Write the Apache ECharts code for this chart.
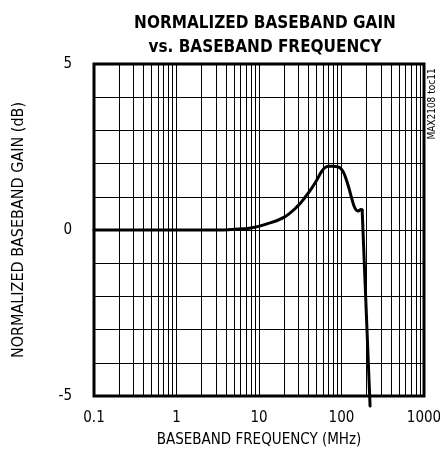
<!DOCTYPE html>
<html>
<head>
<meta charset="utf-8">
<script src="https://cdn.jsdelivr.net/npm/echarts@6/dist/echarts.min.js"></script>
<style>html,body{margin:0;padding:0;background:#fff}#c{width:440px;height:457px}</style>
</head>
<body>
<div id="c"></div>
<script>
// Data: smooth passband part and the steep roll-off
const freqMHz = [0.1, 0.5, 1, 2, 3, 5, 8, 12, 20, 30, 36, 42, 50, 57, 63, 70, 80, 90, 96, 105, 115, 125, 133, 146, 160, 172, 178];
const gainDb  = [0, 0, 0, 0, 0, 0.02, 0.06, 0.17, 0.38, 0.74, 0.98, 1.2, 1.5, 1.75, 1.88, 1.92, 1.92, 1.9, 1.87, 1.75, 1.5, 1.2, 0.95, 0.65, 0.57, 0.62, 0.6];
const rollFreqMHz = [178, 222];
const rollGainDb  = [0.6, -5.3];
const xTickLabels = ['0.1', '1', '10', '100', '1000'];
const yTickLabels = [5, 0, -5];
const minorGridFreqs = [0.2,0.3,0.4,0.5,0.6,0.7,0.8,0.9, 2,3,4,5,6,7,8,9, 20,30,40,50,60,70,80,90, 200,300,400,500,600,700,800,900];

const FONT = '"Liberation Sans Narrow", "DejaVu Sans Condensed", sans-serif';
const chart = echarts.init(document.getElementById('c'), null, {renderer: 'canvas'});
chart.setOption({
  animation: false,
  backgroundColor: '#fff',
  title: {
    text: 'NORMALIZED BASEBAND GAIN\nvs. BASEBAND FREQUENCY',
    left: 260, top: 7, textAlign: 'center',
    textStyle: {fontFamily: FONT, fontWeight: 'bold', fontSize: 17, lineHeight: 24, color: '#000'}
  },
  grid: {left: 94, top: 64, right: 16, bottom: 61, show: true, borderColor: '#000', borderWidth: 3,
         backgroundColor: 'transparent', outerBoundsMode: 'none', containLabel: false},
  xAxis: {
    type: 'log', logBase: 10, min: 0.1, max: 1000,
    name: 'BASEBAND FREQUENCY (MHz)', nameLocation: 'middle', nameGap: 37,
    nameTextStyle: {fontFamily: FONT, fontSize: 15, color: '#000'},
    axisLine: {show: false}, axisTick: {show: false},
    axisLabel: {margin: 15, fontFamily: FONT, fontSize: 15, color: '#000',
      formatter: v => { const s = String(+v.toPrecision(3)); return xTickLabels.includes(s) ? s : ''; }},
    splitLine: {show: true, lineStyle: {color: '#000', width: 1}}
  },
  yAxis: {
    type: 'value', min: -5, max: 5, interval: 1,
    name: 'NORMALIZED BASEBAND GAIN (dB)', nameLocation: 'middle', nameGap: 67,
    nameTextStyle: {fontFamily: FONT, fontSize: 16, color: '#000'},
    axisLine: {show: false}, axisTick: {show: false},
    axisLabel: {margin: 22, fontFamily: FONT, fontSize: 15, color: '#000',
      formatter: v => yTickLabels.includes(v) ? String(v) : ''},
    splitLine: {show: true, lineStyle: {color: '#000', width: 1}}
  },
  graphic: [{
    type: 'text', x: 432, y: 104, rotation: Math.PI / 2,
    style: {text: 'MAX2108 toc11', fontFamily: FONT, fontSize: 10, fill: '#000', align: 'center', verticalAlign: 'middle'}
  }],
  series: [
    {
      type: 'line', data: [], silent: true, z: 1,
      markLine: {
        silent: true, symbol: 'none', label: {show: false}, animation: false,
        lineStyle: {color: '#000', width: 1, type: 'solid'},
        data: minorGridFreqs.map(f => ({xAxis: f}))
      }
    },
    {
      type: 'line', z: 5, clip: false, showSymbol: false, smooth: 0.4,
      data: freqMHz.map((f, i) => [f, gainDb[i]]),
      lineStyle: {color: '#000', width: 3, join: 'round', cap: 'round'}
    },
    {
      type: 'line', z: 5, clip: false, showSymbol: false, smooth: false,
      data: rollFreqMHz.map((f, i) => [f, rollGainDb[i]]),
      lineStyle: {color: '#000', width: 3, cap: 'round'}
    }
  ]
});
</script>
</body>
</html>
